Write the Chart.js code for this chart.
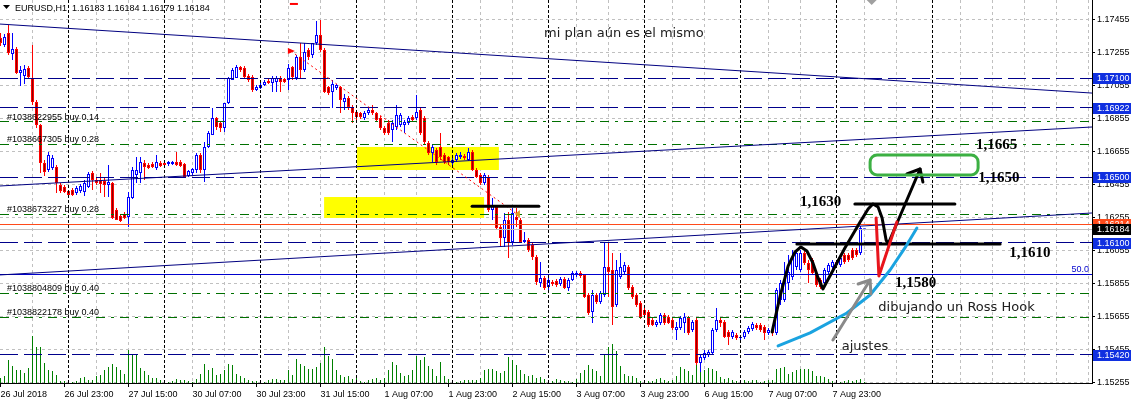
<!DOCTYPE html>
<html>
<head>
<meta charset="utf-8">
<style>
  html, body { margin: 0; padding: 0; background: #fff; }
  #wrap { width: 1131px; height: 406px; }
</style>
<script src="https://cdn.jsdelivr.net/npm/chart.js@4.4.1/dist/chart.umd.min.js"></script>
</head>
<body>
<div id="wrap"><canvas id="chart" width="1131" height="406"></canvas></div>
<script>
// EURUSD H1, 26 Jul 2018 07:00 -> 8 Aug 2018 07:00 (bar index 0..216)
const opens = [
  1.17344, 1.17302, 1.17375, 1.17247, 1.17278, 1.17132, 1.17114, 1.17162, 1.17102, 1.16956,
  1.16816, 1.16586, 1.16543, 1.16555, 1.16561, 1.16452, 1.16440, 1.16416, 1.16422, 1.16404,
  1.16416, 1.16410, 1.16440, 1.16525, 1.16482, 1.16482, 1.16476, 1.16452, 1.16464, 1.16300,
  1.16264, 1.16276, 1.16258, 1.16373, 1.16513, 1.16525, 1.16586, 1.16574, 1.16580, 1.16555,
  1.16586, 1.16586, 1.16580, 1.16580, 1.16592, 1.16592, 1.16580, 1.16507, 1.16525, 1.16543,
  1.16634, 1.16543, 1.16683, 1.16756, 1.16859, 1.16828, 1.16798, 1.16950, 1.17089, 1.17102,
  1.17168, 1.17162, 1.17114, 1.17108, 1.17029, 1.17041, 1.17059, 1.17083, 1.17071, 1.17077,
  1.17102, 1.17095, 1.17089, 1.17168, 1.17102, 1.17229, 1.17150, 1.17272, 1.17241, 1.17314,
  1.17363, 1.17272, 1.17047, 1.17017, 1.17041, 1.17047, 1.16956, 1.16980, 1.16926, 1.16895,
  1.16889, 1.16859, 1.16889, 1.16907, 1.16889, 1.16859, 1.16798, 1.16828, 1.16786, 1.16804,
  1.16816, 1.16816, 1.16828, 1.16865, 1.16859, 1.16907, 1.16859, 1.16707, 1.16646, 1.16665,
  1.16683, 1.16634, 1.16622, 1.16586, 1.16604, 1.16622, 1.16628, 1.16604, 1.16652, 1.16543,
  1.16513, 1.16464, 1.16501, 1.16300, 1.16319, 1.16197, 1.16130, 1.16240, 1.16106, 1.16258,
  1.16240, 1.16106, 1.16118, 1.16088, 1.16015, 1.15857, 1.15888, 1.15833, 1.15863, 1.15869,
  1.15851, 1.15882, 1.15827, 1.15875, 1.15906, 1.15918, 1.15906, 1.15784, 1.15681, 1.15784,
  1.15742, 1.15784, 1.15954, 1.15936, 1.15724, 1.15894, 1.15924, 1.15954, 1.15833, 1.15784,
  1.15736, 1.15693, 1.15681, 1.15633, 1.15602, 1.15614, 1.15663, 1.15651, 1.15633, 1.15572,
  1.15584, 1.15614, 1.15645, 1.15572, 1.15633, 1.15372, 1.15402, 1.15420, 1.15432, 1.15572,
  1.15633, 1.15620, 1.15560, 1.15529, 1.15542, 1.15523, 1.15529, 1.15560, 1.15578, 1.15602,
  1.15602, 1.15590, 1.15554, 1.15572, 1.15554, 1.15754, 1.15754, 1.15857, 1.15894, 1.15954,
  1.15936, 1.16039, 1.15979, 1.15997, 1.15918, 1.15875, 1.15857, 1.15924, 1.15954, 1.15985,
  1.15967, 1.16027, 1.16027, 1.16057, 1.16057, 1.16039, 1.16183
]
const highs = [
  1.17375, 1.17369, 1.17423, 1.17375, 1.17290, 1.17174, 1.17180, 1.17174, 1.17302, 1.16968,
  1.16822, 1.16604, 1.16652, 1.16634, 1.16574, 1.16464, 1.16452, 1.16422, 1.16434, 1.16446,
  1.16458, 1.16482, 1.16531, 1.16537, 1.16495, 1.16525, 1.16501, 1.16574, 1.16470, 1.16312,
  1.16276, 1.16288, 1.16410, 1.16561, 1.16622, 1.16622, 1.16604, 1.16586, 1.16592, 1.16634,
  1.16598, 1.16604, 1.16598, 1.16598, 1.16652, 1.16604, 1.16586, 1.16543, 1.16555, 1.16646,
  1.16646, 1.16713, 1.16780, 1.16919, 1.16865, 1.16841, 1.16950, 1.17108, 1.17162, 1.17180,
  1.17174, 1.17174, 1.17126, 1.17120, 1.17059, 1.17071, 1.17089, 1.17095, 1.17114, 1.17114,
  1.17114, 1.17102, 1.17186, 1.17174, 1.17241, 1.17314, 1.17314, 1.17284, 1.17314, 1.17448,
  1.17454, 1.17284, 1.17053, 1.17089, 1.17065, 1.17053, 1.17004, 1.16992, 1.16938, 1.16907,
  1.16895, 1.16901, 1.16919, 1.16938, 1.16895, 1.16871, 1.16810, 1.16847, 1.16847, 1.16938,
  1.16889, 1.16847, 1.16871, 1.16877, 1.16998, 1.16919, 1.16871, 1.16719, 1.16695, 1.16677,
  1.16768, 1.16646, 1.16628, 1.16616, 1.16646, 1.16652, 1.16640, 1.16677, 1.16665, 1.16555,
  1.16525, 1.16525, 1.16513, 1.16373, 1.16331, 1.16209, 1.16282, 1.16288, 1.16312, 1.16312,
  1.16252, 1.16167, 1.16130, 1.16100, 1.16027, 1.15985, 1.15900, 1.15888, 1.15875, 1.15882,
  1.15894, 1.15894, 1.15888, 1.15930, 1.15930, 1.15930, 1.15912, 1.15797, 1.15815, 1.15797,
  1.15809, 1.16100, 1.16100, 1.16039, 1.15997, 1.16039, 1.15985, 1.15967, 1.15845, 1.15797,
  1.15748, 1.15705, 1.15693, 1.15645, 1.15633, 1.15675, 1.15675, 1.15663, 1.15645, 1.15620,
  1.15657, 1.15675, 1.15657, 1.15633, 1.15645, 1.15420, 1.15450, 1.15450, 1.15584, 1.15705,
  1.15645, 1.15633, 1.15572, 1.15572, 1.15554, 1.15542, 1.15572, 1.15596, 1.15620, 1.15614,
  1.15614, 1.15602, 1.15584, 1.15584, 1.15827, 1.15875, 1.15985, 1.16027, 1.16057, 1.16057,
  1.16057, 1.16057, 1.15997, 1.16009, 1.15936, 1.15888, 1.15948, 1.15979, 1.15997, 1.15997,
  1.16021, 1.16039, 1.16039, 1.16070, 1.16070, 1.16203, 1.16184
]
const lows = [
  1.17296, 1.17290, 1.17241, 1.17211, 1.17126, 1.17053, 1.17065, 1.17095, 1.16938, 1.16798,
  1.16525, 1.16507, 1.16531, 1.16543, 1.16404, 1.16404, 1.16404, 1.16379, 1.16385, 1.16391,
  1.16404, 1.16385, 1.16434, 1.16422, 1.16452, 1.16404, 1.16379, 1.16379, 1.16246, 1.16240,
  1.16227, 1.16246, 1.16197, 1.16367, 1.16464, 1.16464, 1.16482, 1.16549, 1.16555, 1.16543,
  1.16561, 1.16555, 1.16567, 1.16574, 1.16567, 1.16561, 1.16495, 1.16501, 1.16513, 1.16525,
  1.16525, 1.16470, 1.16677, 1.16756, 1.16786, 1.16774, 1.16774, 1.16944, 1.17089, 1.17102,
  1.17138, 1.17102, 1.17077, 1.17017, 1.17023, 1.17035, 1.17053, 1.17065, 1.17017, 1.17017,
  1.17017, 1.17071, 1.17029, 1.17089, 1.17089, 1.17102, 1.17138, 1.17211, 1.17223, 1.17302,
  1.17259, 1.17010, 1.16998, 1.16919, 1.17029, 1.16889, 1.16907, 1.16907, 1.16828, 1.16847,
  1.16853, 1.16847, 1.16877, 1.16877, 1.16834, 1.16786, 1.16756, 1.16756, 1.16713, 1.16786,
  1.16804, 1.16768, 1.16816, 1.16834, 1.16847, 1.16756, 1.16695, 1.16634, 1.16592, 1.16574,
  1.16604, 1.16580, 1.16574, 1.16567, 1.16592, 1.16610, 1.16604, 1.16598, 1.16537, 1.16495,
  1.16452, 1.16452, 1.16288, 1.16240, 1.16179, 1.16076, 1.16076, 1.16009, 1.16088, 1.16197,
  1.16100, 1.16100, 1.16045, 1.15997, 1.15845, 1.15833, 1.15815, 1.15815, 1.15839, 1.15833,
  1.15839, 1.15821, 1.15809, 1.15869, 1.15894, 1.15888, 1.15766, 1.15663, 1.15614, 1.15730,
  1.15730, 1.15772, 1.15772, 1.15602, 1.15711, 1.15882, 1.15912, 1.15815, 1.15760, 1.15711,
  1.15639, 1.15651, 1.15590, 1.15596, 1.15590, 1.15602, 1.15602, 1.15608, 1.15572, 1.15511,
  1.15572, 1.15554, 1.15542, 1.15560, 1.15360, 1.15317, 1.15390, 1.15408, 1.15420, 1.15560,
  1.15590, 1.15523, 1.15481, 1.15517, 1.15511, 1.15511, 1.15517, 1.15548, 1.15566, 1.15572,
  1.15560, 1.15511, 1.15542, 1.15536, 1.15542, 1.15724, 1.15742, 1.15815, 1.15875, 1.15936,
  1.15924, 1.15967, 1.15857, 1.15906, 1.15833, 1.15821, 1.15845, 1.15912, 1.15942, 1.15954,
  1.15954, 1.15973, 1.15985, 1.15997, 1.16015, 1.16027, 1.16179
]
const closes = [
  1.17314, 1.17350, 1.17253, 1.17278, 1.17132, 1.17150, 1.17156, 1.17108, 1.16956, 1.16816,
  1.16586, 1.16531, 1.16634, 1.16616, 1.16464, 1.16416, 1.16410, 1.16391, 1.16391, 1.16434,
  1.16446, 1.16464, 1.16519, 1.16482, 1.16464, 1.16458, 1.16452, 1.16470, 1.16252, 1.16240,
  1.16234, 1.16252, 1.16379, 1.16543, 1.16543, 1.16592, 1.16561, 1.16555, 1.16561, 1.16592,
  1.16567, 1.16574, 1.16592, 1.16592, 1.16574, 1.16567, 1.16501, 1.16537, 1.16549, 1.16634,
  1.16543, 1.16683, 1.16768, 1.16859, 1.16804, 1.16798, 1.16950, 1.17102, 1.17150, 1.17168,
  1.17150, 1.17108, 1.17089, 1.17029, 1.17047, 1.17059, 1.17077, 1.17071, 1.17102, 1.17102,
  1.17077, 1.17077, 1.17162, 1.17108, 1.17229, 1.17150, 1.17259, 1.17229, 1.17314, 1.17363,
  1.17272, 1.17017, 1.17010, 1.17065, 1.17059, 1.16968, 1.16980, 1.16926, 1.16889, 1.16865,
  1.16865, 1.16889, 1.16907, 1.16889, 1.16847, 1.16798, 1.16768, 1.16768, 1.16828, 1.16877,
  1.16877, 1.16834, 1.16859, 1.16847, 1.16895, 1.16768, 1.16713, 1.16646, 1.16683, 1.16592,
  1.16622, 1.16592, 1.16592, 1.16604, 1.16634, 1.16634, 1.16616, 1.16652, 1.16543, 1.16501,
  1.16464, 1.16513, 1.16300, 1.16331, 1.16191, 1.16130, 1.16240, 1.16100, 1.16282, 1.16240,
  1.16106, 1.16118, 1.16057, 1.16015, 1.15863, 1.15888, 1.15827, 1.15875, 1.15851, 1.15845,
  1.15882, 1.15827, 1.15875, 1.15918, 1.15918, 1.15900, 1.15772, 1.15675, 1.15784, 1.15742,
  1.15797, 1.15954, 1.15924, 1.15711, 1.15936, 1.15954, 1.15967, 1.15827, 1.15772, 1.15724,
  1.15651, 1.15663, 1.15602, 1.15602, 1.15620, 1.15663, 1.15614, 1.15614, 1.15584, 1.15590,
  1.15645, 1.15651, 1.15554, 1.15620, 1.15372, 1.15408, 1.15432, 1.15438, 1.15572, 1.15633,
  1.15614, 1.15529, 1.15529, 1.15560, 1.15523, 1.15529, 1.15560, 1.15584, 1.15608, 1.15584,
  1.15572, 1.15554, 1.15572, 1.15554, 1.15815, 1.15857, 1.15875, 1.15924, 1.16015, 1.16039,
  1.16039, 1.15979, 1.15936, 1.15918, 1.15845, 1.15833, 1.15936, 1.15967, 1.15985, 1.15967,
  1.16009, 1.15985, 1.15997, 1.16009, 1.16027, 1.16191, 1.16184
]
// tick volume
const volumes = [
  5, 7, 23, 17, 13, 13, 10, 15, 47, 36, 36, 20, 13, 12, 8, 2, 2, 1, 1, 2,
  5, 6, 3, 3, 7, 8, 13, 16, 19, 16, 13, 9, 33, 29, 28, 15, 12, 8, 5, 5,
  3, 2, 1, 2, 4, 3, 3, 2, 1, 4, 9, 19, 13, 15, 8, 9, 13, 19, 18, 9,
  7, 5, 3, 2, 2, 1, 1, 3, 4, 4, 3, 3, 13, 8, 24, 19, 17, 14, 14, 16,
  20, 36, 27, 24, 13, 8, 6, 7, 4, 5, 2, 1, 3, 4, 5, 3, 5, 13, 21, 18,
  10, 7, 8, 13, 27, 23, 26, 17, 14, 7, 21, 7, 4, 1, 1, 2, 3, 3, 3, 3,
  5, 13, 14, 14, 12, 10, 12, 26, 23, 18, 13, 9, 7, 8, 5, 6, 4, 3, 2, 4,
  3, 2, 2, 1, 4, 10, 13, 18, 14, 12, 7, 28, 36, 39, 32, 17, 9, 7, 7, 5,
  2, 1, 2, 2, 4, 5, 3, 2, 3, 7, 16, 14, 12, 8, 19, 17, 13, 15, 14, 12,
  6, 4, 5, 3, 2, 2, 3, 2, 3, 3, 1, 2, 3, 3, 14, 15, 16, 9, 11, 13,
  14, 14, 14, 12, 7, 7, 6, 4, 2, 2, 1, 2, 3, 2, 3, 4, 1
]

const timeLabels = ['26 Jul 2018', '26 Jul 23:00', '27 Jul 15:00', '30 Jul 07:00', '30 Jul 23:00',
  '31 Jul 15:00', '1 Aug 07:00', '1 Aug 23:00', '2 Aug 15:00', '3 Aug 07:00', '3 Aug 23:00',
  '6 Aug 15:00', '7 Aug 07:00', '7 Aug 23:00']
const priceTicks = [1.17455, 1.17255, 1.17055, 1.16855, 1.16655, 1.16455, 1.16255,
  1.16055, 1.15855, 1.15655, 1.15455, 1.15255]
const dayStartBars = [17, 41, 65, 89, 113, 137, 161, 185, 209, 233]

// horizontal levels
const blueLevels = [1.17100, 1.16922, 1.16500, 1.16100, 1.15420]
const orderLevels = [1.16836, 1.16699, 1.16274, 1.15795, 1.15649]
const orderTexts = ['#1038622955 buy 0.14', '#1038667305 buy 0.28', '#1038673227 buy 0.28',
  '#1038804809 buy 0.40', '#1038822178 buy 0.40']
const stopLevel = 1.16214
const bidPrice = 1.16184
const fiboLevel = 1.15907

// objects drawn on the chart: [bar, price]
const trendLines = [
  [[-0.125, 1.17429], [272.875, 1.17010]],
  [[-0.125, 1.16446], [272.875, 1.16804]],
  [[-0.125, 1.15906], [272.875, 1.16282]]
]
const yellowZones = [[89.1, 124.6, 1.16683, 1.16543], [80.9, 120.9, 1.16379, 1.16252]]
const blackSegments = [[117.9, 134.6, 1.16323], [213.6, 238.6, 1.16337], [199.1, 249.9, 1.16094]]
const tradeLine = [[72.6, 1.17265], [129.1, 1.16276]]
const hookPath = [[192.9, 1.15560], [194.9, 1.15778], [196.9, 1.15960], [198.6, 1.16045],
  [200.1, 1.16076], [201.6, 1.16051], [203.1, 1.15979], [204.4, 1.15888], [205.6, 1.15821],
  [207.9, 1.15924], [211.1, 1.16070], [214.9, 1.16227], [216.9, 1.16306], [218.1, 1.16337],
  [219.4, 1.16319], [220.4, 1.16252], [221.4, 1.16118], [221.9, 1.16094], [229.9, 1.16549]]
const hookArrowHead = [[226.6, 1.16519], [229.9, 1.16549], [230.6, 1.16470]]
const redV = [[218.9, 1.16252], [219.6, 1.15900], [224.1, 1.16228]]
const cyanCurve = [[194.4, 1.15475], [202.4, 1.15554], [211.6, 1.15675], [217.4, 1.15784],
  [222.4, 1.15936], [226.1, 1.16070], [229.1, 1.16191]]
const grayArrow = [[208.1, 1.15511], [217.4, 1.15875]]
const grayArrowHead = [[214.4, 1.15851], [217.4, 1.15875], [217.6, 1.15790]]
const targetBox = [217.4, 244.4, 1.16634, 1.16513]
const priceNotes = [['1,1665', 243.9, 1.16669], ['1,1650', 244.45, 1.16473], ['1,1630', 199.9, 1.16325],
  ['1,1610', 252.2, 1.16015], ['1,1580', 223.6, 1.15833]]
const comments = [['mi plan aún es el mismo', 135.9, 1.17353], ['dibujando un Ross Hook', 219.45, 1.15690],
  ['ajustes', 210.3, 1.15450]]
const quote = 'EURUSD,H1  1.16183 1.16184 1.16179 1.16184'

const FONT = '"Liberation Sans", Arial, sans-serif'
const bull = (i) => closes[i] >= opens[i]

const gridBars = []
for (let b = 0; b <= 272; b += 8) gridBars.push(b)

function line(ctx, x, y, pts, color, width, dash) {
  ctx.save()
  ctx.strokeStyle = color
  ctx.lineWidth = width
  ctx.lineJoin = 'round'
  ctx.lineCap = width > 1 ? 'round' : 'butt'
  ctx.setLineDash(dash || [])
  ctx.beginPath()
  pts.forEach(([b, p], i) => {
    const px = x.getPixelForValue(b), py = y.getPixelForValue(p)
    if (i) ctx.lineTo(px, py)
    else ctx.moveTo(px, py)
  })
  ctx.stroke()
  ctx.restore()
}

function hLine(ctx, a, y, price, color, dash) {
  const py = Math.round(y.getPixelForValue(price) - 0.5) + 0.5
  ctx.save()
  ctx.strokeStyle = color
  ctx.lineWidth = 1
  ctx.setLineDash(dash || [])
  ctx.beginPath()
  ctx.moveTo(a.left, py)
  ctx.lineTo(a.right, py)
  ctx.stroke()
  ctx.restore()
}

const overlay = {
  id: "overlay",
  beforeDatasetsDraw(chart) {
    const { ctx, chartArea: a, scales: { x, y } } = chart
    ctx.save()
    ctx.fillStyle = "#ffff00"
    yellowZones.forEach(([b0, b1, p0, p1]) => {
      const x0 = x.getPixelForValue(b0), x1 = x.getPixelForValue(b1)
      const y0 = y.getPixelForValue(p0), y1 = y.getPixelForValue(p1)
      ctx.fillRect(x0, y0, x1 - x0, y1 - y0)
    })
    ctx.restore()
  },
  afterDatasetsDraw(chart) {
    const { ctx, chartArea: a, scales: { x, y } } = chart
    ctx.save()
    ctx.beginPath()
    ctx.rect(a.left, a.top, a.right - a.left, a.bottom - a.top)
    ctx.clip()

    // period separators
    ctx.strokeStyle = "#000"
    ctx.lineWidth = 1
    ctx.setLineDash([3, 2])
    dayStartBars.forEach((b) => {
      const px = Math.floor(x.getPixelForValue(b)) + 0.5
      ctx.beginPath()
      ctx.moveTo(px, a.top)
      ctx.lineTo(px, a.bottom)
      ctx.stroke()
    })
    ctx.setLineDash([])

    // levels
    blueLevels.forEach((p) => hLine(ctx, a, y, p, "#00008b", [18, 6]))
    orderLevels.forEach((p) => hLine(ctx, a, y, p, "#007000", [9, 6, 3, 6]))
    hLine(ctx, a, y, fiboLevel, "#0000cd")
    hLine(ctx, a, y, bidPrice, "#c0c0c0")
    hLine(ctx, a, y, stopLevel, "#ff4a1a")

    // trend lines
    trendLines.forEach((t) => line(ctx, x, y, t, "#000080", 1))

    // closed trade
    line(ctx, x, y, tradeLine, "#ff0000", 1, [2, 3])
    const [tb, tp] = tradeLine[0]
    const tx = x.getPixelForValue(tb), ty = y.getPixelForValue(tp)
    ctx.fillStyle = "#ff0000"
    ctx.beginPath()
    ctx.moveTo(tx - 3, ty - 3)
    ctx.lineTo(tx + 4, ty)
    ctx.lineTo(tx - 3, ty + 3)
    ctx.closePath()
    ctx.fill()
    ctx.fillRect(tx - 1, y.getPixelForValue(1.17551) - 1, 8, 2)
    const [cb, cp] = tradeLine[1]
    const cx = x.getPixelForValue(cb), cy = y.getPixelForValue(cp)
    ctx.fillStyle = "#e0a020"
    ctx.beginPath()
    ctx.moveTo(cx - 2, cy)
    ctx.lineTo(cx + 3, cy - 4)
    ctx.lineTo(cx + 3, cy + 4)
    ctx.closePath()
    ctx.fill()
    const gx = x.getPixelForValue(217.8)
    ctx.fillStyle = "#a0a0a0"
    ctx.beginPath()
    ctx.moveTo(gx - 5, a.top)
    ctx.lineTo(gx + 5, a.top)
    ctx.lineTo(gx, a.top + 5)
    ctx.closePath()
    ctx.fill()

    // black segments
    blackSegments.forEach(([b0, b1, p]) =>
      line(ctx, x, y, [[b0, p], [b1, p]], "#000", 3))

    // hand drawings
    line(ctx, x, y, cyanCurve, "#1aa3e0", 3)
    line(ctx, x, y, grayArrow, "#8a8a8a", 3)
    line(ctx, x, y, grayArrowHead, "#8a8a8a", 3)
    line(ctx, x, y, hookPath, "#000", 3)
    line(ctx, x, y, hookArrowHead, "#000", 3)
    line(ctx, x, y, redV, "#e8141c", 3)

    const [b0, b1, p0, p1] = targetBox
    const bx0 = x.getPixelForValue(b0), bx1 = x.getPixelForValue(b1)
    const by0 = y.getPixelForValue(p0), by1 = y.getPixelForValue(p1)
    ctx.strokeStyle = "#3cb043"
    ctx.lineWidth = 3
    ctx.beginPath()
    ctx.roundRect(bx0, by0, bx1 - bx0, by1 - by0, 7)
    ctx.stroke()

    // texts
    ctx.fillStyle = "#000"
    ctx.textBaseline = "alphabetic"
    ctx.textAlign = "left"
    ctx.font = 'bold 15px "Liberation Serif", "Times New Roman", serif'
    priceNotes.forEach(([t, b, p]) => ctx.fillText(t, x.getPixelForValue(b), y.getPixelForValue(p)))
    ctx.font = '13px "DejaVu Sans", sans-serif'
    ctx.fillStyle = "#202020"
    comments.forEach(([t, b, p]) => ctx.fillText(t, x.getPixelForValue(b), y.getPixelForValue(p)))

    ctx.font = "9px " + FONT
    ctx.fillStyle = "#000"
    orderLevels.forEach((p, i) => ctx.fillText(orderTexts[i], a.left + 7, y.getPixelForValue(p) - 2))
    ctx.fillStyle = "#0000cd"
    ctx.textAlign = "right"
    ctx.fillText("50.0", a.right - 3, y.getPixelForValue(fiboLevel) - 3)

    // header
    ctx.textAlign = "left"
    ctx.fillStyle = "#000"
    ctx.fillText(quote, a.left + 15, a.top + 11)
    ctx.beginPath()
    ctx.moveTo(a.left + 3, a.top + 5)
    ctx.lineTo(a.left + 10, a.top + 5)
    ctx.lineTo(a.left + 6.5, a.top + 9)
    ctx.closePath()
    ctx.fill()
    ctx.restore()
  },
  afterDraw(chart) {
    const { ctx, chartArea: a, scales: { y } } = chart
    ctx.save()
    ctx.font = "9px " + FONT
    ctx.textBaseline = "middle"
    ctx.textAlign = "left"
    const box = (price, bg) => {
      const py = Math.round(y.getPixelForValue(price))
      ctx.fillStyle = bg
      ctx.fillRect(a.right + 1, py - 5, 39, 11)
      ctx.fillStyle = "#fff"
      ctx.fillText(price.toFixed(5), a.right + 5, py + 0.5)
    }
    blueLevels.forEach((p) => box(p, "#1030e0"))
    box(stopLevel, "#ff4a1a")
    box(bidPrice, "#000")
    ctx.restore()
  },
}

new Chart(document.getElementById("chart"), {
  type: "bar",
  data: {
    datasets: [
      {
        label: "body",
        order: 1,
        data: opens.map((o, i) => ({ x: i, y: [Math.min(o, closes[i]), Math.max(o, closes[i])] })),
        backgroundColor: (c) => (bull(c.dataIndex) ? "#ffffff" : "#8b0000"),
        borderColor: (c) => (bull(c.dataIndex) ? "#0000ff" : "#ff0000"),
        borderWidth: 1,
        borderSkipped: false,
        barThickness: 3,
        minBarLength: 1,
        inflateAmount: 0,
        grouped: false,
        yAxisID: "y",
      },
      {
        label: "wick",
        order: 2,
        data: lows.map((l, i) => ({ x: i, y: [l, highs[i]] })),
        backgroundColor: (c) => (bull(c.dataIndex) ? "#0000ff" : "#ff0000"),
        borderWidth: 0,
        barThickness: 1,
        minBarLength: 1,
        inflateAmount: 0,
        grouped: false,
        yAxisID: "y",
      },
      {
        label: "volume",
        order: 3,
        data: volumes.map((v, i) => ({ x: i, y: v })),
        backgroundColor: "#008000",
        borderWidth: 0,
        barThickness: 1,
        inflateAmount: 0,
        grouped: false,
        yAxisID: "yv",
      },
    ],
  },
  options: {
    responsive: false,
    devicePixelRatio: 1,
    animation: false,
    events: [],
    layout: { padding: 0 },
    plugins: { legend: { display: false }, tooltip: { enabled: false } },
    scales: {
      x: {
        type: "linear",
        min: -0.125,
        max: 272.875,
        offset: false,
        afterBuildTicks: (s) => { s.ticks = gridBars.map((v) => ({ value: v })) },
        afterFit: (s) => { s.height = 23; s.paddingLeft = 0; s.paddingRight = 0 },
        grid: {
          offset: false,
          color: (c) => {
            const v = c.tick ? c.tick.value : -1
            return v <= 0 || (v % 24 === 16 && v < 240) ? "rgba(0,0,0,0)" : "#c0c0c0"
          },
          tickColor: (c) => (c.tick && c.tick.value % 16 === 0 && c.tick.value <= 208 ? "#000" : "rgba(0,0,0,0)"),
          tickLength: 4,
        },
        border: { color: "#000", width: 1, dash: [3, 3] },
        ticks: {
          autoSkip: false,
          maxRotation: 0,
          minRotation: 0,
          align: "start",
          padding: 2,
          color: "#000",
          font: { family: FONT, size: 9 },
          callback: (v) => (v % 16 === 0 && timeLabels[v / 16] ? timeLabels[v / 16] : ""),
        },
      },
      y: {
        position: "right",
        min: 1.1525,
        max: 1.17575,
        afterBuildTicks: (s) => { s.ticks = priceTicks.map((v) => ({ value: v })) },
        afterFit: (s) => { s.width = 39; s.paddingTop = 0; s.paddingBottom = 0 },
        grid: { color: "#c0c0c0", tickColor: "#000", tickLength: 3 },
        border: { color: "#000", width: 1, dash: [3, 3] },
        ticks: {
          padding: 2,
          color: "#000",
          font: { family: FONT, size: 9 },
          callback: (v) => Number(v).toFixed(5),
        },
      },
      yv: { display: false, min: 0, max: 383 },
    },
  },
  plugins: [overlay],
})
</script>
</body>
</html>
